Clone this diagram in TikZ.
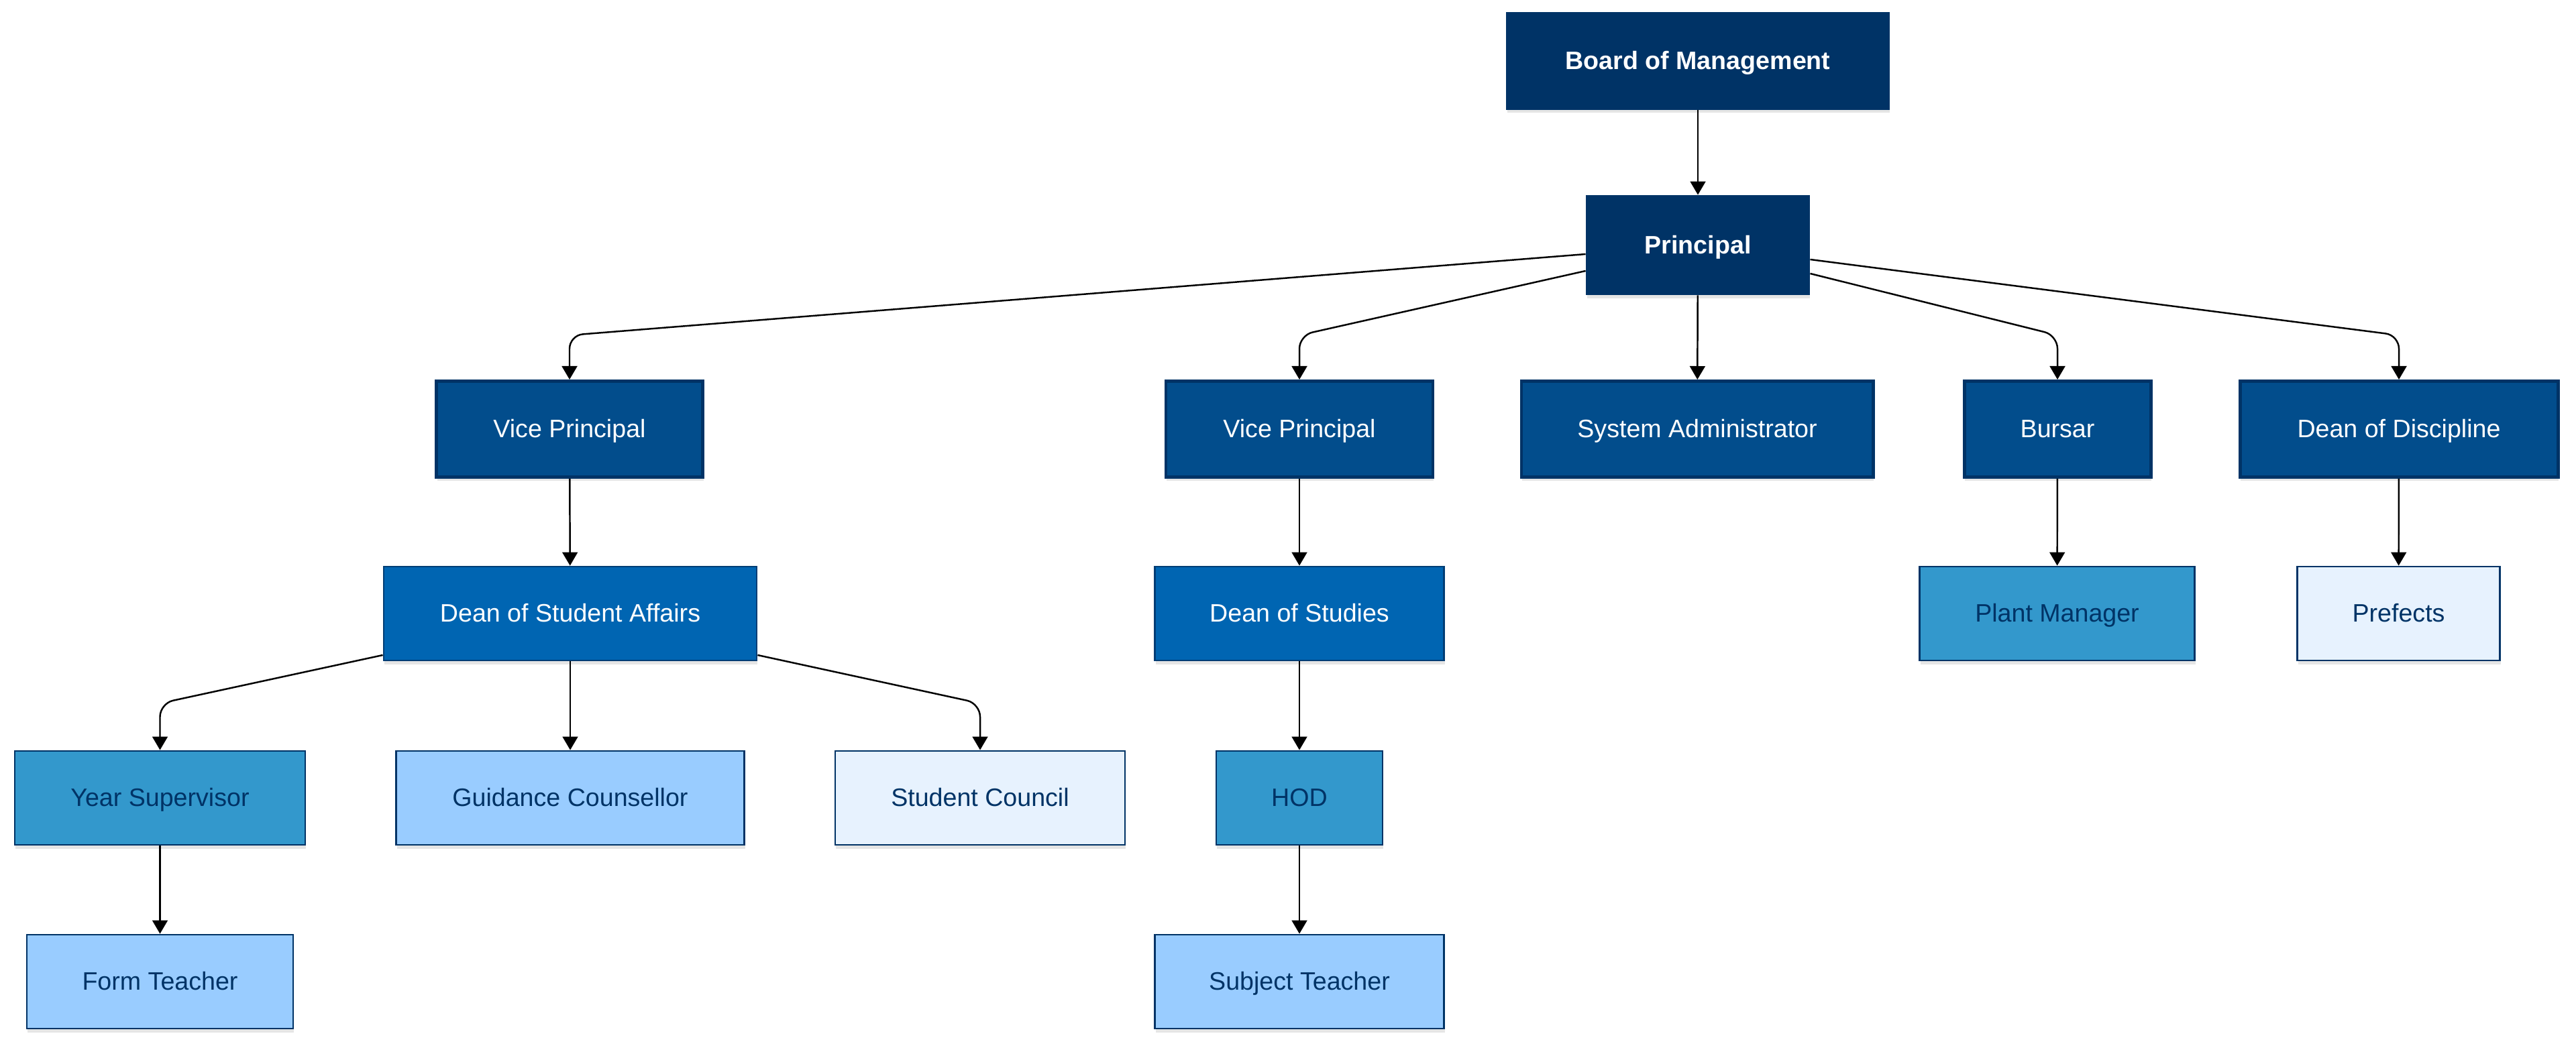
\documentclass[tikz,border=0pt]{standalone}
\usepackage{fontspec}
\setmainfont{Liberation Sans}
\usetikzlibrary{arrows.meta,shadows}
\definecolor{cA}{HTML}{003366}
\definecolor{cB}{HTML}{024D8C}
\definecolor{cC}{HTML}{0065B2}
\definecolor{cD}{HTML}{3398CC}
\definecolor{cE}{HTML}{99CCFF}
\definecolor{cF}{HTML}{E7F2FE}
\tikzset{
  box/.style={rectangle, minimum height=1.43cm, inner sep=0pt,
    text height=0.72em, text depth=0pt,
    font=\fontsize{10.7}{12.8}\selectfont,
    drop shadow={shadow xshift=0.01cm, shadow yshift=-0.06cm, opacity=0.10, fill=black}},
  top/.style={box, fill=cA, draw=cA, line width=0.8pt, text=white, font=\fontsize{10.7}{12.8}\selectfont\bfseries},
  lvlb/.style={box, fill=cB, draw=cA, line width=1.4pt, text=white},
  lvlc/.style={box, fill=cC, draw=cA!80!cC, line width=0.8pt, text=white, minimum height=1.40cm},
  lvld/.style={box, fill=cD, draw=cA, line width=0.8pt, text=cA, minimum height=1.40cm},
  lvle/.style={box, fill=cE, draw=cA, line width=0.8pt, text=cA, minimum height=1.40cm},
  lvlf/.style={box, fill=cF, draw=cA, line width=0.8pt, text=cA, minimum height=1.40cm},
  edge/.style={draw=black, line width=0.7pt, rounded corners=0.2cm,
    -{Triangle[length=5.7pt, width=6.5pt]}}
}
\begin{document}
\begin{tikzpicture}
\useasboundingbox (0,0) rectangle (38.4,-15.6);
\fill[white] (0,0) rectangle (38.4,-15.6);
% row 0-1
\node[top, minimum width=5.70cm] (bom) at (25.31,-0.91) {Board of Management};
\node[top, minimum width=3.32cm, minimum height=1.47cm] (pri) at (25.31,-3.655) {Principal};
% row 2
\node[lvlb, minimum width=3.97cm] (vpa) at (8.49,-6.40) {Vice Principal};
\node[lvlb, minimum width=3.98cm] (vpb) at (19.37,-6.40) {Vice Principal};
\node[lvlb, minimum width=5.24cm] (sys) at (25.30,-6.40) {System Administrator};
\node[lvlb, minimum width=2.78cm] (bur) at (30.67,-6.40) {Bursar};
\node[lvlb, minimum width=4.74cm] (dod) at (35.76,-6.40) {Dean of Discipline};
% row 3
\node[lvlc, minimum width=5.56cm] (dsa) at (8.50,-9.15) {Dean of Student Affairs};
\node[lvlc, minimum width=4.31cm] (dos) at (19.37,-9.15) {Dean of Studies};
\node[lvld, minimum width=4.10cm] (pm) at (30.665,-9.15) {Plant Manager};
\node[lvlf, minimum width=3.02cm] (pre) at (35.755,-9.15) {Prefects};
% row 4
\node[lvld, minimum width=4.33cm] (ys) at (2.385,-11.90) {Year Supervisor};
\node[lvle, minimum width=5.19cm] (gc) at (8.50,-11.90) {Guidance Counsellor};
\node[lvlf, minimum width=4.32cm] (sc) at (14.61,-11.90) {Student Council};
\node[lvld, minimum width=2.48cm] (hod) at (19.37,-11.90) {HOD};
% row 5
\node[lvle, minimum width=3.97cm] (ft) at (2.385,-14.64) {Form Teacher};
\node[lvle, minimum width=4.31cm] (st) at (19.37,-14.64) {Subject Teacher};
% edges
\draw[edge] (bom) -- (pri);
\draw[edge] ([yshift=-0.135cm]pri.west) -- (vpa.north |- 0,-5.00) -- (vpa.north);
\draw[edge] ([yshift=-0.385cm]pri.west) -- (vpb.north |- 0,-5.00) -- (vpb.north);
\draw[edge] (pri) -- (sys);
\draw[edge] ([yshift=-0.425cm]pri.east) -- (bur.north |- 0,-5.00) -- (bur.north);
\draw[edge] ([yshift=-0.215cm]pri.east) -- (dod.north |- 0,-5.00) -- (dod.north);
\draw[edge] (vpa) -- (dsa);
\draw[edge] (vpb) -- (dos);
\draw[edge] (bur) -- (pm);
\draw[edge] (dod) -- (pre);
\draw[edge] ([yshift=-0.62cm]dsa.west) -- (ys.north |- 0,-10.49) -- (ys.north);
\draw[edge] (dsa) -- (gc);
\draw[edge] ([yshift=-0.62cm]dsa.east) -- (sc.north |- 0,-10.49) -- (sc.north);
\draw[edge] (dos) -- (hod);
\draw[edge] (ys) -- (ft);
\draw[edge] (hod) -- (st);
\end{tikzpicture}
\end{document}
